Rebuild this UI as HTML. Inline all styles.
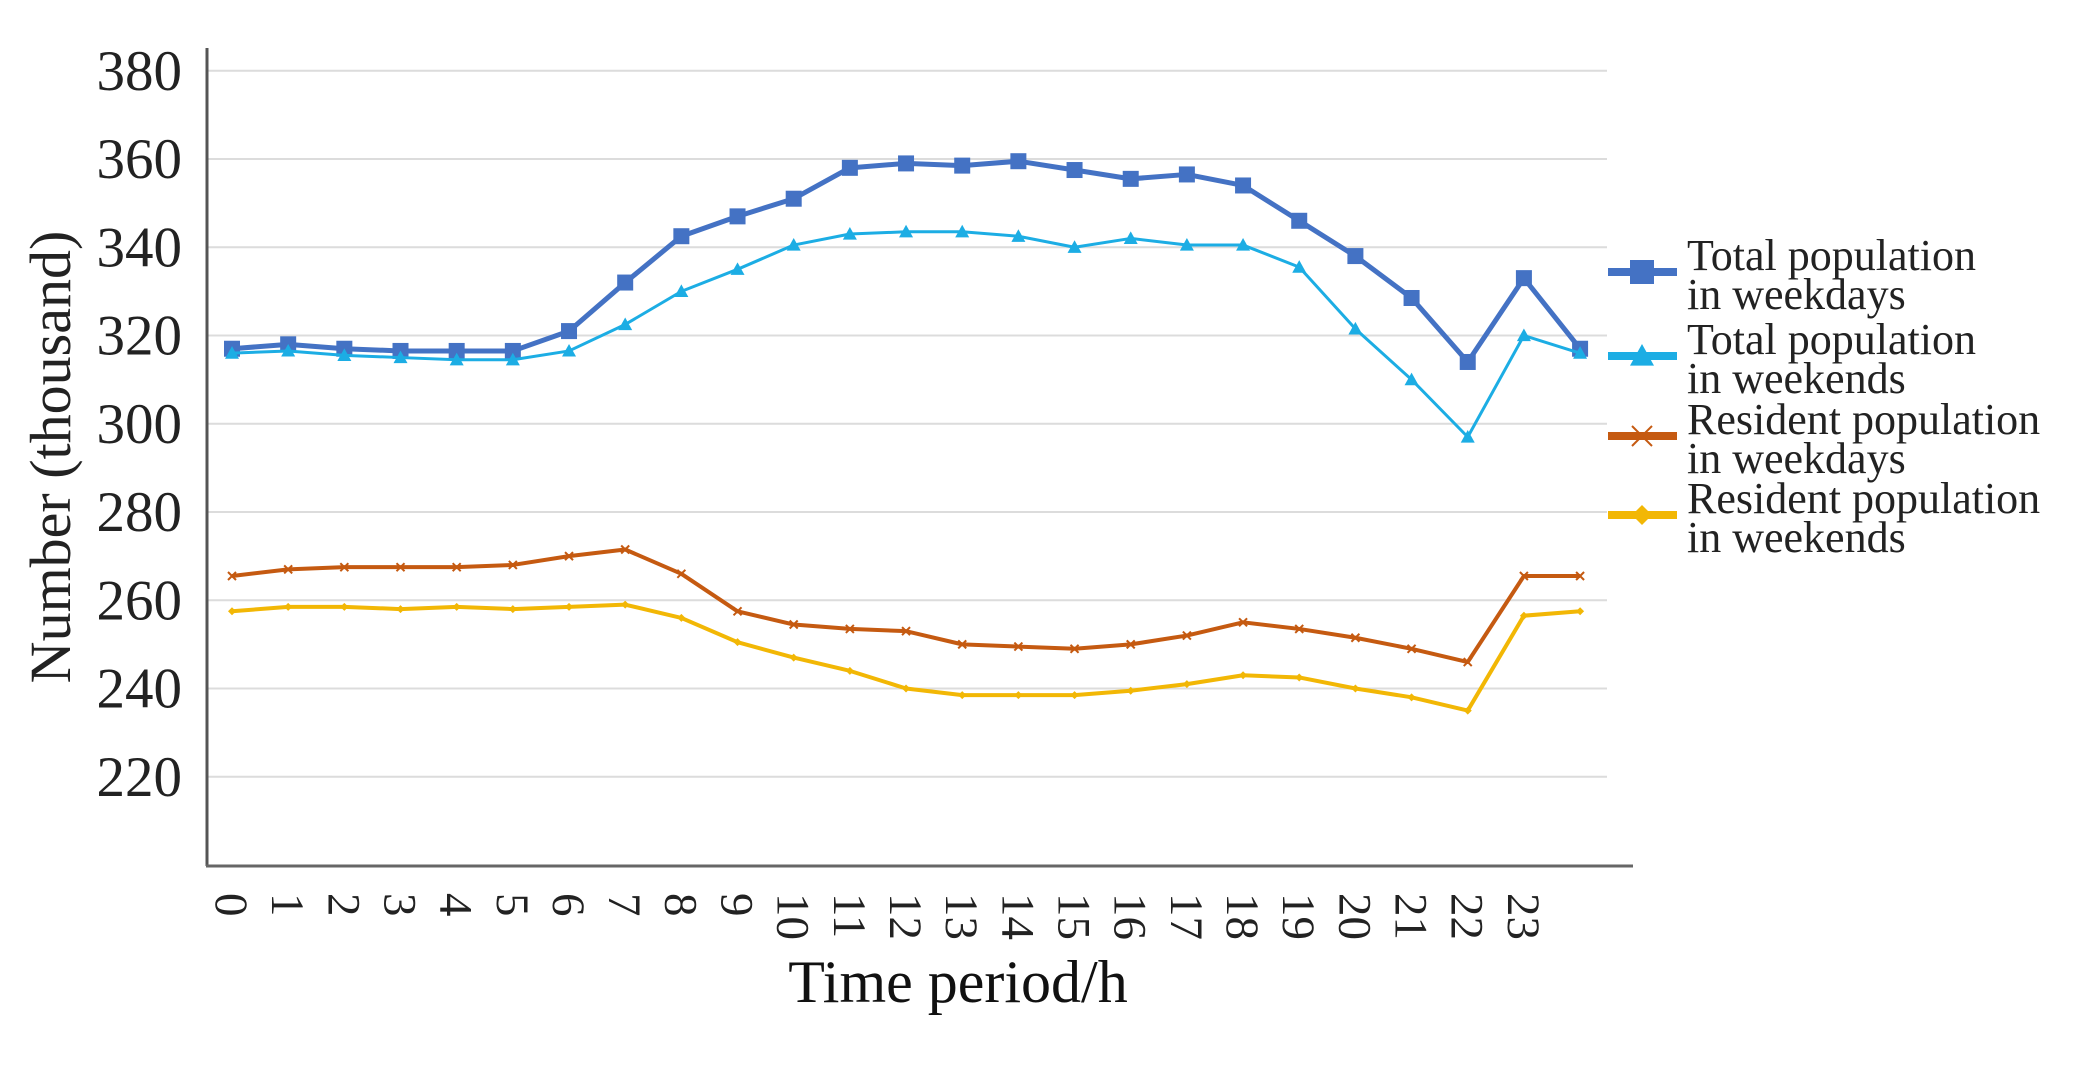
<!DOCTYPE html>
<html><head><meta charset="utf-8"><style>
html,body{margin:0;padding:0;background:#fff;}
svg{display:block;font-family:"Liberation Serif",serif;}
</style></head><body>
<svg id="chart" width="2078" height="1066" viewBox="0 0 2078 1066" xmlns="http://www.w3.org/2000/svg">
<g id="grid"></g>
<g id="yticks"></g>
<g id="xticks"></g>
<line x1="207" y1="48" x2="207" y2="866" stroke="#555" stroke-width="3"/>
<line x1="206" y1="866" x2="1633" y2="866" stroke="#666" stroke-width="3"/>
<text transform="translate(70,457) rotate(-90)" text-anchor="middle" font-size="58" fill="#222">Number (thousand)</text>
<text x="958" y="1002" text-anchor="middle" font-size="60" fill="#111">Time period/h</text>
<g id="series"></g>
<g id="legend"></g>
</svg>
<script>
const hours = [0,1,2,3,4,5,6,7,8,9,10,11,12,13,14,15,16,17,18,19,20,21,22,23,24];
const xTickLabels = ["0","1","2","3","4","5","6","7","8","9","10","11","12","13","14","15","16","17","18","19","20","21","22","23"];
const yTickLabels = [220,240,260,280,300,320,340,360,380];
const totalWeekdays = [317,318,317,316.5,316.5,316.5,321,332,342.5,347,351,358,359,358.5,359.5,357.5,355.5,356.5,354,346,338,328.5,314,333,317];
const totalWeekends = [316,316.5,315.5,315,314.5,314.5,316.5,322.5,330,335,340.5,343,343.5,343.5,342.5,340,342,340.5,340.5,335.5,321.5,310,297,320,316];
const residentWeekdays = [265.5,267,267.5,267.5,267.5,268,270,271.5,266,257.5,254.5,253.5,253,250,249.5,249,250,252,255,253.5,251.5,249,246,265.5,265.5];
const residentWeekends = [257.5,258.5,258.5,258,258.5,258,258.5,259,256,250.5,247,244,240,238.5,238.5,238.5,239.5,241,243,242.5,240,238,235,256.5,257.5];
const seriesNames = ["Total population|in weekdays","Total population|in weekends","Resident population|in weekdays","Resident population|in weekends"];

const NS="http://www.w3.org/2000/svg";
const x = h => 232 + h*56.17;
const y = v => 865 - (v-200)*4.4125;
function mk(tag, attrs, parent){const e=document.createElementNS(NS,tag);for(const k in attrs)e.setAttribute(k,attrs[k]);parent.appendChild(e);return e;}
const grid=document.getElementById('grid'), yt=document.getElementById('yticks'), xt=document.getElementById('xticks');
yTickLabels.forEach(v=>{
  const l=mk('line',{x1:208,x2:1607,y1:y(v),y2:y(v),stroke:'#dcdcdc','stroke-width':2},grid);
  
  
  const t=mk('text',{x:182,y:y(v)+19,'text-anchor':'end','font-size':57,fill:'#222'},yt);
  t.textContent=v;
  
  
});
xTickLabels.forEach((s,i)=>{
  const t=mk('text',{transform:`translate(${x(i)-16},893) rotate(90)`,'text-anchor':'start','font-size':47,fill:'#222'},xt);
  t.textContent=s;
  
  
});
const sg=document.getElementById('series');
const cfg=[
 {data:totalWeekdays,color:'#4472C4',w:5,m:'square',ms:8},
 {data:totalWeekends,color:'#1CADE4',w:3,m:'tri',ms:7},
 {data:residentWeekdays,color:'#C55A11',w:4,m:'x',ms:4},
 {data:residentWeekends,color:'#F2B705',w:4,m:'diamond',ms:4}
];
function marker(type,cx,cy,s,c,parent){
  let e;
  if(type==='square') e=mk('rect',{x:cx-s,y:cy-s,width:2*s,height:2*s,fill:c},parent);
  else if(type==='tri') e=mk('polygon',{points:`${cx},${cy-s} ${cx+s},${cy+s*0.8} ${cx-s},${cy+s*0.8}`,fill:c},parent);
  else if(type==='diamond') e=mk('polygon',{points:`${cx},${cy-s} ${cx+s},${cy} ${cx},${cy+s} ${cx-s},${cy}`,fill:c},parent);
  else e=mk('path',{d:`M${cx-s},${cy-s}L${cx+s},${cy+s}M${cx-s},${cy+s}L${cx+s},${cy-s}`,stroke:c,'stroke-width':2},parent);
  return e;
}
cfg.forEach((c,si)=>{
  const g=mk('g',{},sg);
  
  
  const p=mk('polyline',{points:c.data.map((v,i)=>x(hours[i])+','+y(v)).join(' '),fill:'none',stroke:c.color,'stroke-width':c.w,'stroke-linejoin':'round'},g);
  
  
  c.data.forEach((v,i)=>{
    const m=marker(c.m,x(hours[i]),y(v),c.ms,c.color,g);
    
    
  });
});
const lg=document.getElementById('legend');
const ly=[272,356,436,515];
seriesNames.forEach((n,i)=>{
  const g=mk('g',{},lg);
  
  
  mk('line',{x1:1608,x2:1677,y1:ly[i],y2:ly[i],stroke:cfg[i].color,'stroke-width':8},g);
  marker(cfg[i].m,1642,ly[i],i<2?12:10,cfg[i].color,g);
  const parts=n.split('|');
  const t1=mk('text',{x:1687,y:ly[i]-2,'font-size':44,fill:'#222'},g); t1.textContent=parts[0];
  const t2=mk('text',{x:1687,y:ly[i]+37,'font-size':44,fill:'#222'},g); t2.textContent=parts[1];
});
</script>
</body></html>
